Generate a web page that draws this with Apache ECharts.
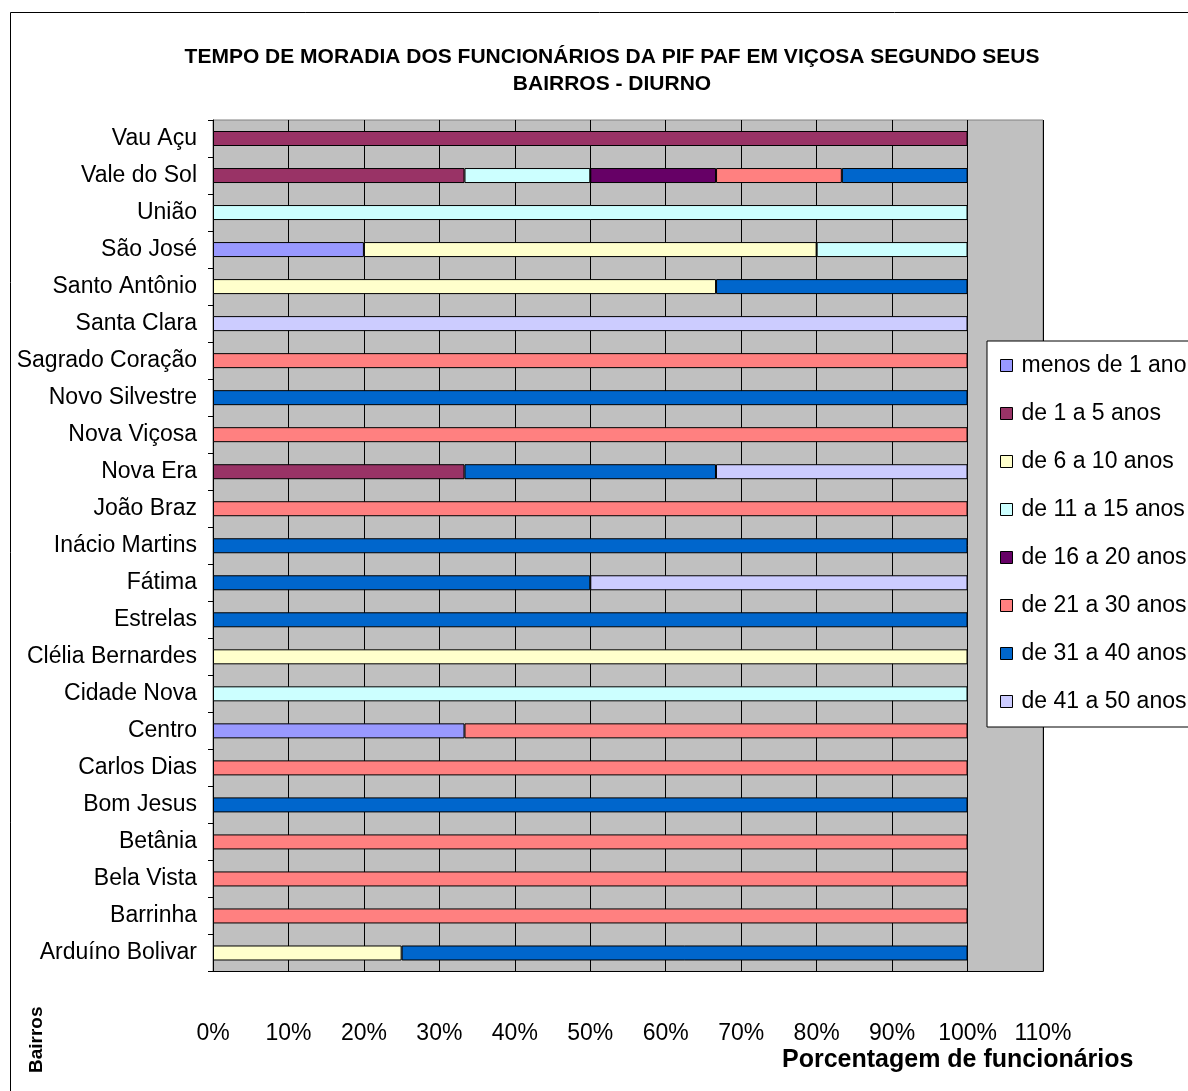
<!DOCTYPE html>
<html><head><meta charset="utf-8">
<script src="https://cdn.jsdelivr.net/npm/echarts@6/dist/echarts.min.js"></script>
<style>html,body{margin:0;padding:0;background:#fff}#c{width:1188px;height:1091px}</style>
</head><body><div id="c"></div>
<script>
const bairros = ["Arduíno Bolivar","Barrinha","Bela Vista","Betânia","Bom Jesus","Carlos Dias","Centro","Cidade Nova","Clélia Bernardes","Estrelas","Fátima","Inácio Martins","João Braz","Nova Era","Nova Viçosa","Novo Silvestre","Sagrado Coração","Santa Clara","Santo Antônio","São José","União","Vale do Sol","Vau Açu"];
const seriesNames = ["menos de 1 ano","de 1 a 5 anos","de 6 a 10 anos","de 11 a 15 anos","de 16 a 20 anos","de 21 a 30 anos","de 31 a 40 anos","de 41 a 50 anos"];
const colors = ["#9999FF","#993366","#FFFFCC","#CCFFFF","#660066","#FF8080","#0066CC","#CCCCFF"];
const menos1   = [0,0,0,0,0,0,33.33,0,0,0,0,0,0,0,0,0,0,0,0,20,0,0,0];
const de1a5    = [0,0,0,0,0,0,0,0,0,0,0,0,0,33.33,0,0,0,0,0,0,0,33.33,100];
const de6a10   = [25,0,0,0,0,0,0,0,100,0,0,0,0,0,0,0,0,0,66.67,60,0,0,0];
const de11a15  = [0,0,0,0,0,0,0,100,0,0,0,0,0,0,0,0,0,0,0,20,100,16.67,0];
const de16a20  = [0,0,0,0,0,0,0,0,0,0,0,0,0,0,0,0,0,0,0,0,0,16.67,0];
const de21a30  = [0,100,100,100,0,100,66.67,0,0,0,0,0,100,0,100,0,100,0,0,0,0,16.67,0];
const de31a40  = [75,0,0,0,100,0,0,0,0,100,50,100,0,33.33,0,100,0,0,33.33,0,0,16.67,0];
const de41a50  = [0,0,0,0,0,0,0,0,0,0,50,0,0,33.34,0,0,0,100,0,0,0,0,0];
const values = [menos1,de1a5,de6a10,de11a15,de16a20,de21a30,de31a40,de41a50];
const xTicks = [0,10,20,30,40,50,60,70,80,90,100,110];

const font = "'Liberation Sans', Arial, sans-serif";
const chart = echarts.init(document.getElementById('c'), null, {renderer:'canvas'});
chart.setOption({
  animation:false,
  backgroundColor:'#fff',
  title:{
    text:'TEMPO DE MORADIA DOS FUNCIONÁRIOS DA PIF PAF EM VIÇOSA SEGUNDO SEUS\nBAIRROS - DIURNO',
    left:607, top:39, textAlign:'center',
    textStyle:{fontFamily:font,fontSize:21,fontWeight:'bold',color:'#000',lineHeight:27}
  },
  legend:{
    orient:'vertical', left:987, top:341,
    padding:[13,14,14,13],
    backgroundColor:'#fff', borderColor:'#000', borderWidth:1,
    itemWidth:12, itemHeight:12, itemGap:25,
    icon:'rect',
    itemStyle:{borderColor:'#000',borderWidth:1},
    textStyle:{fontFamily:font,fontSize:23,color:'#000',padding:[0,0,0,4]},
    data:seriesNames
  },
  grid:{left:213,right:145,top:120,bottom:119.5,show:true,backgroundColor:'#C0C0C0',borderColor:'#808080',borderWidth:1,containLabel:false},
  xAxis:{
    type:'value', min:0, max:110, interval:10,
    axisLine:{show:true,lineStyle:{color:'#000'}},
    axisTick:{show:false},
    splitLine:{show:true,lineStyle:{color:'#000',width:1}},
    axisLabel:{margin:51,fontFamily:font,fontSize:23,color:'#000',formatter:v=>xTicks.includes(v)?v+'%':''}
  },
  yAxis:{
    type:'category', data:bairros,
    axisLine:{show:true,lineStyle:{color:'#000'}},
    axisTick:{show:true,length:5,lineStyle:{color:'#000'}},
    splitLine:{show:false},
    axisLabel:{margin:16,fontFamily:font,fontSize:23,color:'#000'}
  },
  graphic:[
    {type:'rect',shape:{x:10.5,y:12.5,width:1200,height:1100},style:{fill:'none',stroke:'#000',lineWidth:1},silent:true,z:-10},
    {type:'text',left:782,top:1048,style:{text:'Porcentagem de funcionários',font:'bold 25px '+font,fill:'#000'}},
    {type:'text',x:27,y:1073,rotation:Math.PI/2,style:{text:'Bairros',font:'bold 19px '+font,fill:'#000'}}
  ],
  series: seriesNames.map((n,i)=>({
    name:n, type:'bar', stack:'total', barWidth:15,
    itemStyle:{color:colors[i],borderColor:'#000',borderWidth:1},
    data:values[i].map(v=>v===0?null:v)
  }))
});
</script></body></html>
